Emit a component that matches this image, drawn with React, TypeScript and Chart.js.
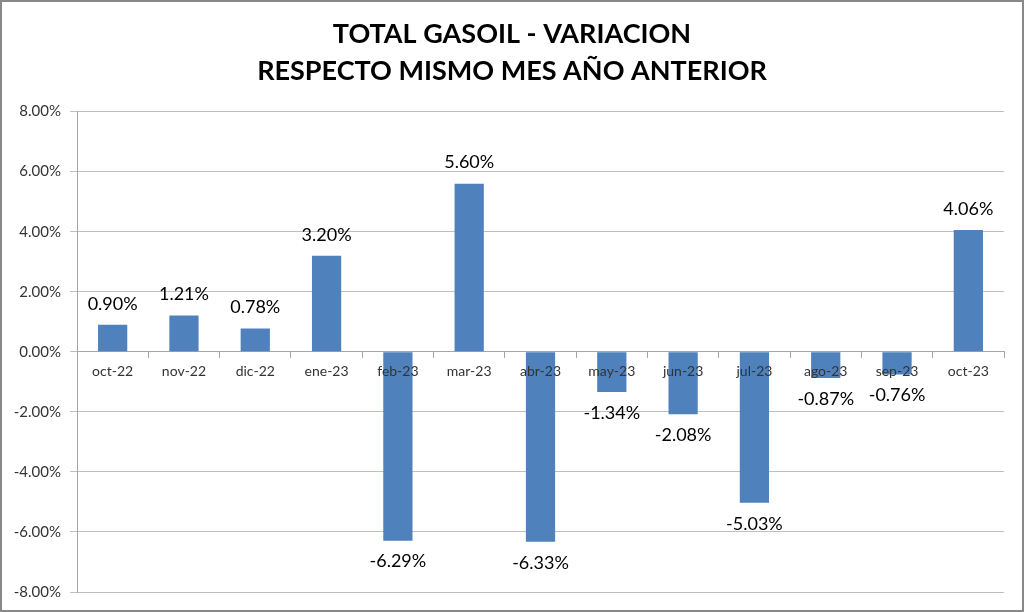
import React, { useEffect, useRef } from "react";
import { Chart, registerables } from "chart.js";

Chart.register(...registerables);

const categories = ["oct-22", "nov-22", "dic-22", "ene-23", "feb-23", "mar-23", "abr-23", "may-23", "jun-23", "jul-23", "ago-23", "sep-23", "oct-23"];
const values = [0.9, 1.21, 0.78, 3.2, -6.29, 5.6, -6.33, -1.34, -2.08, -5.03, -0.87, -0.76, 4.06];
const titleLines = ["TOTAL GASOIL - VARIACION", "RESPECTO MISMO MES AÑO ANTERIOR"];
const yMin = -8;
const yMax = 8;
const yStep = 2;

const FONT = "Lato, 'Liberation Sans', sans-serif";

const overlayLabels = {
  id: "overlayLabels",
  afterDatasetsDraw(chart: any) {
    const ctx = chart.ctx;
    const meta = chart.getDatasetMeta(0);
    const xs = chart.scales.x;
    const zeroY = chart.scales.y.getPixelForValue(0);
    ctx.save();
    // category labels drawn on top of the bars
    ctx.font = `14px ${FONT}`;
    ctx.fillStyle = "#333";
    ctx.textAlign = "center";
    ctx.textBaseline = "middle";
    categories.forEach((c, i) => {
      ctx.fillText(c, xs.getPixelForTick(i), zeroY + 20);
    });
    // value labels
    ctx.font = `18px ${FONT}`;
    ctx.fillStyle = "#000";
    meta.data.forEach((bar: any, i: number) => {
      const v = values[i];
      const txt = v.toFixed(2) + "%";
      ctx.fillText(txt, bar.x, v >= 0 ? bar.y - 21 : bar.y + 21);
    });
    ctx.restore();
  },
};

export default function App() {
  const ref = useRef<HTMLCanvasElement>(null);
  useEffect(() => {
    if (!ref.current) return;
    const chart = new Chart(ref.current, {
      type: "bar",
      data: {
        labels: categories,
        datasets: [
          {
            data: values,
            backgroundColor: "#4f81bd",
            categoryPercentage: 1,
            barPercentage: 0.41,
            yAxisID: "y",
          },
        ],
      },
      options: {
        animation: false,
        responsive: false,
        maintainAspectRatio: false,
        layout: { padding: { top: 0, right: 0, bottom: 13, left: 0 } },
        plugins: {
          legend: { display: false },
          tooltip: { enabled: false },
          title: {
            display: true,
            text: titleLines,
            color: "#000",
            font: { family: FONT, size: 27, weight: "bold", lineHeight: 1.4 },
            padding: { top: 13, bottom: 21 },
          },
        },
        scales: {
          x: {
            position: { y: 0 } as any,
            grid: { drawOnChartArea: false, drawTicks: true, tickLength: 6, offset: true, color: "#a6a6a6" },
            border: { display: true, color: "#a6a6a6" },
            ticks: { display: false, autoSkip: false },
          },
          y: {
            position: "left",
            min: yMin,
            max: yMax,
            afterFit(scale: any) {
              scale.width = 75;
            },
            ticks: {
              stepSize: yStep,
              color: "#333",
              font: { family: FONT, size: 15 },
              padding: 9,
              callback: (v: any) => Number(v).toFixed(2) + "%",
            },
            grid: { color: "#bfbfbf", tickLength: 7, lineWidth: 1 },
            border: { display: true, color: "#a6a6a6" },
          },
          yRight: {
            position: "right",
            min: 0,
            max: 1,
            afterFit(scale: any) {
              scale.width = 18;
            },
            ticks: { display: false },
            grid: { display: false },
            border: { display: false },
          },
        },
      },
      plugins: [overlayLabels],
    });
    return () => chart.destroy();
  }, []);
  return (
    <div
      style={{
        position: "fixed",
        left: 0,
        top: 0,
        width: 1024,
        height: 612,
        boxSizing: "border-box",
        border: "2px solid #888",
        background: "#fff",
      }}
    >
      <canvas ref={ref} width={1020} height={608} style={{ display: "block" }} />
    </div>
  );
}
